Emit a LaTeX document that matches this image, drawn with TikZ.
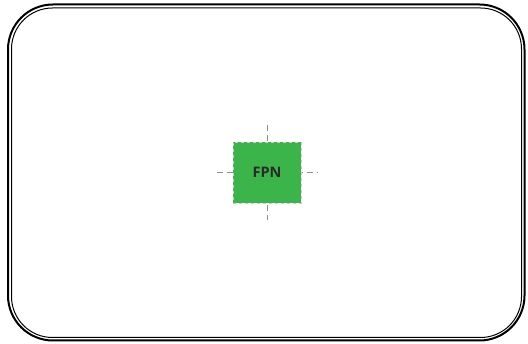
\documentclass[tikz,border=0pt]{standalone}
\usepackage{fontspec}
\setsansfont{Open Sans}
\usetikzlibrary{calc}
\definecolor{fpngreen}{HTML}{3BB54A}
\definecolor{fpntext}{HTML}{2A2A2A}
\tikzset{
	crossline/.style={draw=black!45, line width=0.6pt, dash pattern=on 6pt off 4pt},
	fpnbox/.style={fill=fpngreen, draw=black!20, dashed, line width=0.5pt, minimum width=68pt, minimum height=61pt, inner sep=0pt, text=fpntext, font=\sffamily\bfseries\fontsize{14.5}{14.5}\selectfont}
}

\begin{document}
\begin{tikzpicture}[x=1pt, y=-1pt]
			%%%%% START %%%%%
			
			\useasboundingbox (0, 0) rectangle (528, 344);
			
			\draw[line width=2pt, rounded corners=45pt] (8, 4.5) rectangle (524.5, 340.5);
			\draw[line width=1pt, rounded corners=41pt] (11.5, 8) rectangle (521.5, 337.5);
			
			\draw[crossline] (217, 172.5) -- (318, 172.5);
			\draw[crossline] (267, 125) -- (267, 220);
			
			\node[fpnbox] (fpn) at (267, 172.5) {FPN};
			
			%%%%% END %%%%%
\end{tikzpicture}
\end{document}
